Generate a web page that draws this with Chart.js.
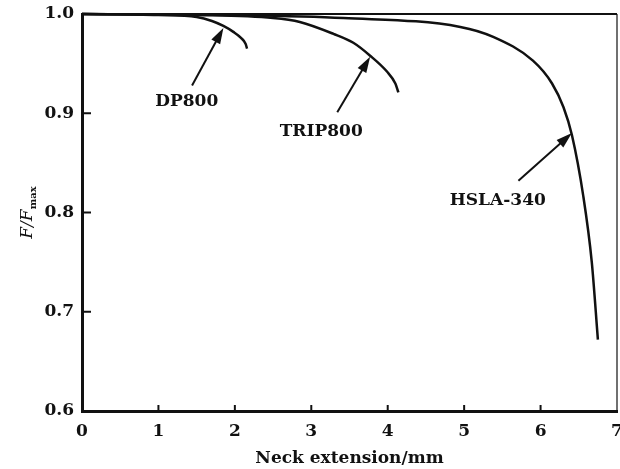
<!DOCTYPE html>
<html>
<head>
<meta charset="utf-8">
<script src="https://cdn.jsdelivr.net/npm/chart.js@4.4.1/dist/chart.umd.min.js"></script>
<style>
    html, body { margin: 0; padding: 0; background: #fff; }
    #wrap { width: 620px; height: 469px; }
</style>
</head>
<body>
<div id="wrap"><canvas id="myChart" width="620" height="469"></canvas></div>
<script>
// curves: [neck extension mm, F/Fmax]
const dp800 = [[0, 1.0], [1.0, 0.999], [1.5, 0.997], [1.7, 0.993], [1.85, 0.988], [1.98, 0.982], [2.08, 0.976], [2.14, 0.97], [2.16, 0.965]];
const trip800 = [[0, 1.0], [1.5, 0.999], [2.5, 0.996], [2.85, 0.992], [3.29, 0.98], [3.55, 0.971], [3.77, 0.958], [3.99, 0.942], [4.1, 0.93], [4.14, 0.921]];
const hsla340 = [[0, 1.0], [2.0, 0.999], [3.42, 0.996], [4.95, 0.987], [5.38, 0.977], [5.9, 0.953], [6.15, 0.93], [6.3, 0.906], [6.41, 0.878], [6.56, 0.816], [6.67, 0.75], [6.75, 0.672]];

const xTicks = [0, 1, 2, 3, 4, 5, 6, 7];
const yTicks = [0.6, 0.7, 0.8, 0.9, 1.0];

// annotation labels: text, label centre, arrow tail, arrow head (data units)
const labels = ['DP800', 'TRIP800', 'HSLA-340'];
const labelPos = [[1.37, 0.912], [3.13, 0.882], [5.44, 0.812]];
const arrowTail = [[1.44, 0.928], [3.34, 0.901], [5.71, 0.832]];
const arrowHead = [[1.85, 0.986], [3.77, 0.957], [6.41, 0.880]];

const FONT = '"DejaVu Serif", serif';

function toPts(arr) {
    return arr.map(p => ({x: p[0], y: p[1]}));
}

const frame = {
    id: 'frame',
    afterDraw(chart) {
        const ctx = chart.ctx;
        const a = chart.chartArea;
        const xs = chart.scales.x, ys = chart.scales.y;
        ctx.save();
        ctx.strokeStyle = '#111';
        // top and right edges
        ctx.lineWidth = 2;
        ctx.beginPath();
        ctx.moveTo(a.left, a.top);
        ctx.lineTo(a.right, a.top);
        ctx.stroke();
        ctx.lineWidth = 1.2;
        ctx.beginPath();
        ctx.moveTo(a.right, a.top);
        ctx.lineTo(a.right, a.bottom);
        ctx.stroke();
        // inward ticks
        ctx.lineWidth = 2;
        xTicks.slice(1, -1).forEach(v => {
            const px = xs.getPixelForValue(v);
            ctx.beginPath();
            ctx.moveTo(px, a.bottom);
            ctx.lineTo(px, a.bottom - 6);
            ctx.stroke();
        });
        yTicks.slice(1, -1).forEach(v => {
            const py = ys.getPixelForValue(v);
            ctx.beginPath();
            ctx.moveTo(a.left, py);
            ctx.lineTo(a.left + 9, py);
            ctx.stroke();
        });

        // arrows and labels
        ctx.fillStyle = '#111';
        ctx.font = 'bold 17px ' + FONT;
        ctx.textAlign = 'center';
        ctx.textBaseline = 'middle';
        for (let i = 0; i < labels.length; i++) {
            const tx = xs.getPixelForValue(arrowTail[i][0]), ty = ys.getPixelForValue(arrowTail[i][1]);
            const hx = xs.getPixelForValue(arrowHead[i][0]), hy = ys.getPixelForValue(arrowHead[i][1]);
            const ang = Math.atan2(hy - ty, hx - tx);
            ctx.lineWidth = 2;
            ctx.beginPath();
            ctx.moveTo(tx, ty);
            ctx.lineTo(hx - 10 * Math.cos(ang), hy - 10 * Math.sin(ang));
            ctx.stroke();
            ctx.beginPath();
            ctx.moveTo(hx, hy);
            ctx.lineTo(hx - 16 * Math.cos(ang) + 5 * Math.sin(ang), hy - 16 * Math.sin(ang) - 5 * Math.cos(ang));
            ctx.lineTo(hx - 16 * Math.cos(ang) - 5 * Math.sin(ang), hy - 16 * Math.sin(ang) + 5 * Math.cos(ang));
            ctx.closePath();
            ctx.fill();
            ctx.fillText(labels[i], xs.getPixelForValue(labelPos[i][0]), ys.getPixelForValue(labelPos[i][1]));
        }

        // y title F/Fmax, rotated
        ctx.translate(26, (a.top + a.bottom) / 2);
        ctx.rotate(-Math.PI / 2);
        ctx.textAlign = 'left';
        ctx.textBaseline = 'alphabetic';
        ctx.font = 'italic 17px ' + FONT;
        const w1 = ctx.measureText('F/F').width;
        ctx.font = 'bold 10px ' + FONT;
        const w2 = ctx.measureText('max').width;
        const x0 = -(w1 + w2) / 2;
        ctx.font = 'italic 17px ' + FONT;
        ctx.fillText('F/F', x0, 6);
        ctx.font = 'bold 10px ' + FONT;
        ctx.fillText('max', x0 + w1, 10);
        ctx.restore();
    }
};

const ctx = document.getElementById('myChart').getContext('2d');
const myChart = new Chart(ctx, {
    type: 'scatter',
    data: {
        datasets: [
            {label: 'DP800', data: toPts(dp800)},
            {label: 'TRIP800', data: toPts(trip800)},
            {label: 'HSLA-340', data: toPts(hsla340)}
        ].map(d => Object.assign(d, {
            showLine: true,
            borderColor: '#111',
            borderWidth: 2.5,
            pointRadius: 0,
            cubicInterpolationMode: 'monotone',
            clip: false
        }))
    },
    options: {
        responsive: false,
        animation: false,
        layout: {padding: {top: 14, right: 3, left: 0, bottom: 0}},
        plugins: {legend: {display: false}, tooltip: {enabled: false}},
        scales: {
            x: {
                type: 'linear',
                min: 0,
                max: 7,
                afterBuildTicks: s => { s.ticks = xTicks.map(v => ({value: v})); },
                afterFit: s => { s.height = 58; s.paddingLeft = 0; s.paddingRight = 0; },
                grid: {display: false, drawTicks: false},
                border: {display: true, color: '#111', width: 3},
                ticks: {color: '#111', padding: 10, font: {family: FONT, size: 17, weight: 'bold'}},
                title: {display: true, text: 'Neck extension/mm', color: '#111', padding: {top: 0, bottom: 0},
                    font: {family: FONT, size: 17, weight: 'bold'}}
            },
            y: {
                type: 'linear',
                min: 0.6,
                max: 1.0,
                afterBuildTicks: s => { s.ticks = yTicks.map(v => ({value: v})); },
                afterFit: s => { s.width = 82; s.paddingTop = 0; s.paddingBottom = 0; },
                grid: {display: false, drawTicks: false},
                border: {display: true, color: '#111', width: 3},
                ticks: {color: '#111', padding: 8, font: {family: FONT, size: 17, weight: 'bold'},
                    callback: v => v.toFixed(1)}
            }
        }
    },
    plugins: [frame]
});
</script>
</body>
</html>
